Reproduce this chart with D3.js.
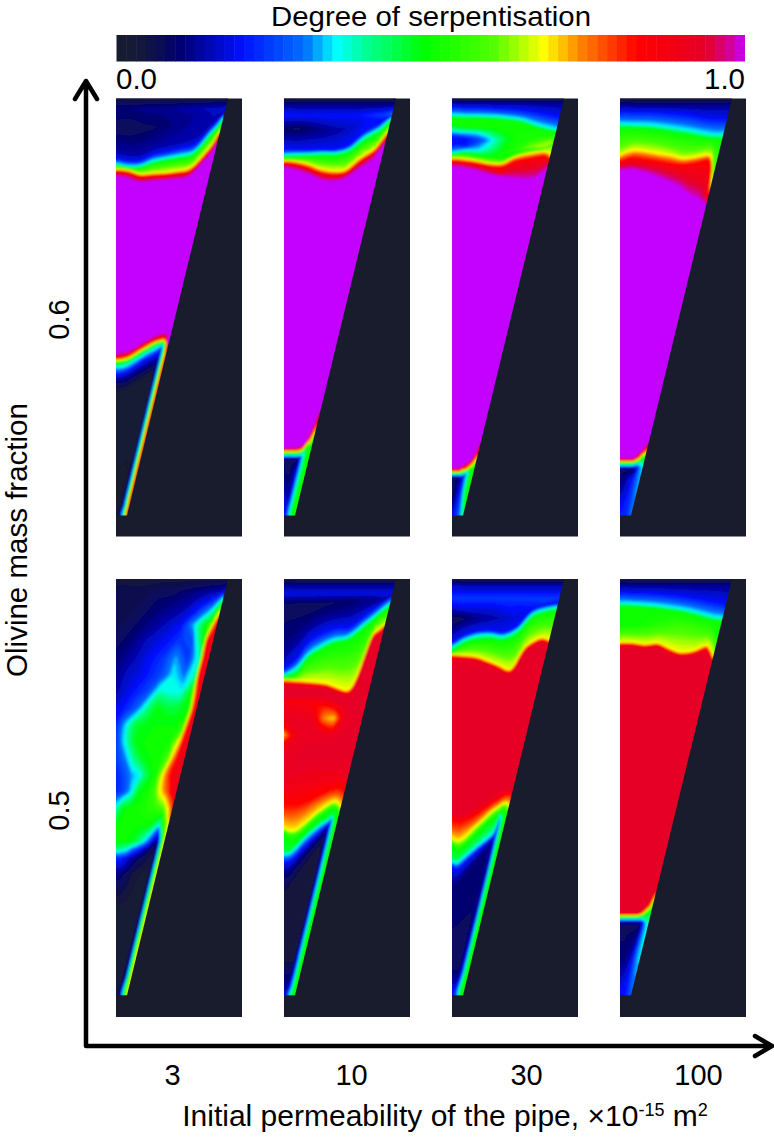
<!DOCTYPE html>
<html>
<head>
<meta charset="utf-8">
<script src="https://cdn.jsdelivr.net/npm/d3@7"></script>
<style>
  body { margin: 0; background: #fff; }
  text { font-family: "Liberation Sans", Arial, sans-serif; fill: #000; }
</style>
</head>
<body>
<div id="chart"></div>
<script>
// categories
var permeabilities = ["3", "10", "30", "100"];
var olivineFractions = ["0.6", "0.5"];

// colour bar
var barStops = [0, 4, 10, 20, 30, 35, 40, 49, 60, 68, 74, 83, 94, 98, 100];
var barColors = ["#181c2c", "#14183c", "#000070", "#0010ff", "#0070ff", "#00ffff", "#00ff90", "#00ff00", "#50ff00", "#ffff00", "#ff8000", "#ff0000", "#e60028", "#d000a0", "#c400ff"];
var barLabels = ["0.0", "1.0"];

// each field on a bent mesh: 11 columns across the wedge,
// rows follow the colour bands. depth = depth down the panel per row (one number = flat row),
// serp = degree of serpentinisation x100 per row
var depth_3_06 = [10, 40,
  [100,100,100,95,85,70,50,45,42,40,38],
  [175,180,178,160,150,140,125,80,70,58,46],
  [193,198,196,178,170,160,150,95,84,70,56],
  [205,212,210,195,187,180,170,112,100,85,70],
  [212,218,217,205,197,190,180,125,112,98,85],
  [223,226,238,235,233,228,220,170,155,135,112],
  [228,232,243,241,239,235,228,180,165,145,122],
  [235,240,252,250,248,243,238,188,175,158,135],
  [245,250,262,258,256,252,246,200,188,170,150],
  [775,772,768,758,745,733,722,715,712,722,745],
  [782,780,776,766,753,742,730,722,720,728,758],
  [788,786,782,772,760,748,737,730,728,735,768],
  [797,795,791,781,768,757,745,738,736,745,780],
  [803,801,797,787,775,763,751,743,741,752,790],
  [818,817,812,802,790,778,767,755,750,760,800],
  [838,836,830,820,808,795,785,775,762,770,810],
  [860,858,855,845,835,825,815,805,790,790,820],
  [890,888,885,875,865,855,845,835,820,820,830],
  1225, 1262];
var serp_3_06 = [4,
  [11,11,12,12,13,14,15,16,16,17,18],
  [7,7,8,9,11,12,14,16,16,17,18],
  14, 20, 35, 49, 68, 83, 93, 100, 100, 93, 83,
  [68,68,68,68,68,68,68,68,68,68,85],
  [49,49,49,49,49,49,49,49,49,52,88],
  [35,35,35,35,35,35,35,35,35,55,88],
  [20,20,20,20,20,20,20,20,20,55,88],
  [10,10,10,10,10,10,10,10,15,55,88],
  [3,3,3,3,3,3,3,3,15,55,88],
  [0,0,0,0,0,0,0,2,16,52,88],
  [0,0,0,0,0,0,0,2,22,50,85]];

var depth_10_06 = [10, 30, 60,
  [100,100,100,105,105,95,70,72,68,65,62],
  [165,165,165,165,165,150,110,85,75,70,65],
  [178,176,175,172,172,162,125,98,88,78,70],
  [187,185,183,182,182,172,140,115,102,92,82],
  [198,200,208,222,228,225,190,160,145,128,112],
  [203,207,218,232,238,233,200,170,155,138,122],
  [210,215,226,242,248,242,210,180,165,148,132],
  [218,225,238,252,258,252,225,195,180,162,148],
  [1058,1058,1058,1058,1058,1056,1054,1050,1030,985,945],
  [1061,1061,1061,1061,1061,1060,1058,1054,1036,1000,960],
  [1065,1065,1065,1065,1065,1064,1062,1058,1042,1020,985],
  [1070,1070,1070,1070,1070,1070,1068,1066,1050,1040,1015],
  [1073,1073,1073,1073,1073,1073,1072,1070,1058,1055,1050],
  [1083,1083,1083,1083,1083,1083,1083,1082,1072,1066,1060],
  [1087,1087,1087,1087,1087,1087,1087,1086,1085,1075,1070],
  1095, 1130, 1200, 1262];
var serp_10_06 = [4, 12,
  [20,20,20,20,20,20,22,25,26,28,30],
  [8,8,10,12,14,16,20,20,20,20,20],
  20, 35, 49, 68, 83, 93, 100, 100, 93, 83, 68, 49,
  [35,35,35,35,35,35,35,35,38,50,50],
  [20,20,20,20,20,20,20,20,38,50,50],
  [8,8,8,8,8,8,8,20,38,50,50],
  [10,8,8,8,10,12,15,20,38,50,50],
  [16,16,14,14,14,14,16,22,38,50,50],
  [20,20,20,20,20,20,20,22,36,50,50]];

var depth_30_06 = [10, 22,
  [38,38,38,40,42,46,52,60,62,64,66],
  [58,60,60,62,66,72,85,96,98,100,102],
  [68,69,70,72,76,82,95,105,107,109,110],
  [92,98,100,100,100,100,105,110,112,113,113],
  [108,112,115,118,115,112,112,113,114,115,115],
  [125,130,135,135,130,125,125,122,120,120,118],
  [150,150,150,150,150,148,140,135,133,130,128],
  [172,165,165,165,165,165,155,150,148,145,140],
  [178,175,180,185,190,175,165,160,155,150,145],
  [190,192,198,205,205,185,176,170,170,172,180],
  [197,200,205,212,215,198,190,182,182,185,190],
  [205,210,215,225,235,225,220,215,212,205,200],
  [215,218,226,238,245,250,255,250,240,232,225],
  [1118,1118,1118,1118,1118,1112,1108,1105,1095,1075,1040],
  [1122,1122,1122,1122,1122,1117,1112,1110,1102,1085,1055],
  [1127,1127,1127,1127,1127,1122,1120,1118,1110,1095,1075],
  [1131,1131,1131,1131,1131,1128,1126,1125,1118,1110,1095],
  [1134,1134,1134,1134,1134,1132,1131,1130,1124,1120,1115],
  [1140,1140,1140,1140,1140,1140,1140,1138,1130,1126,1122],
  [1143,1143,1143,1143,1143,1143,1143,1142,1136,1132,1128],
  1150, 1200, 1262];
var serp_30_06 = [3, 12, 20, 35, 49, 49,
  [35,35,35,42,50,52,52,52,52,52,52],
  [20,20,25,35,46,52,52,52,52,52,52],
  [20,20,30,38,48,52,55,58,58,58,58],
  [35,35,35,42,49,55,62,65,65,65,60],
  [49,49,49,49,49,50,55,58,58,58,58],
  68, 83, 93, 100, 100, 93, 83, 68, 49,
  [35,35,35,35,35,35,35,35,36,50,50],
  [20,20,20,20,20,20,20,20,36,50,50],
  [6,6,8,10,12,14,16,20,36,50,50],
  [6,8,10,12,14,16,18,20,30,48,50],
  [18,18,18,18,18,18,18,20,24,30,45]];

var depth_100_06 = [10, 30,
  [52,50,50,52,56,60,68,72,72,72,72],
  [86,87,88,92,98,104,112,118,118,118,118],
  [98,98,100,105,112,118,125,130,130,130,130],
  [165,148,150,155,165,175,172,165,175,210,240],
  [180,165,168,175,180,190,185,180,190,225,265],
  [198,188,192,198,205,208,203,195,205,235,300],
  [212,208,212,218,228,240,255,270,290,300,315],
  [228,224,232,245,260,275,300,315,320,325,330],
  [1088,1088,1088,1088,1088,1088,1088,1080,1070,1055,1040],
  [1092,1092,1092,1092,1092,1092,1092,1085,1075,1062,1050],
  [1097,1097,1097,1097,1097,1097,1097,1092,1085,1070,1060],
  [1100,1100,1100,1100,1100,1100,1100,1097,1092,1080,1075],
  [1104,1104,1104,1104,1104,1104,1104,1102,1098,1090,1090],
  [1112,1112,1112,1112,1112,1112,1112,1111,1108,1110,1112],
  [1116,1116,1116,1116,1116,1116,1116,1115,1114,1118,1120],
  1125, 1150, 1262];
var serp_100_06 = [3, 12, 20, 35, 49, 62, 68, 83, 93, 100, 100, 93, 83, 68, 49,
  [35,35,35,35,35,35,35,35,35,35,36],
  [20,20,20,20,20,20,20,20,22,30,34],
  [8,8,8,8,8,8,8,10,16,30,34],
  [10,10,11,12,14,15,16,18,22,30,32],
  [22,22,22,22,22,22,22,22,22,24,30]];

var depth_3_05 = [12, 50, 100, 150, 200, 250, 300, 350, 400, 450, 500, 550, 600, 650, 700, 750, 800, 825, 850, 900, 1000, 1200, 1262];
var serp_3_05 = [4,
  [6,6,6,8,8,10,12,14,14,16,18],
  [5,6,8,10,12,14,20,32,38,48,60],
  [6,8,10,13,16,20,34,52,60,75,88],
  [8,10,14,17,20,24,26,50,84,90,90],
  [10,13,16,20,24,32,24,40,80,90,90],
  [12,16,18,22,26,35,30,40,83,90,90],
  [14,18,22,26,38,36,36,49,70,88,90],
  [18,22,28,40,48,46,46,49,62,85,90],
  [22,34,46,48,49,49,49,55,75,88,90],
  [24,36,47,49,49,49,52,70,83,90,90],
  [24,30,40,47,49,50,58,80,88,90,90],
  [22,26,32,36,46,52,70,85,90,90,90],
  [22,26,34,47,50,55,68,78,84,88,90],
  [38,48,50,50,52,54,56,60,66,72,82],
  [50,50,50,50,50,50,46,36,52,60,68],
  [49,49,49,47,42,35,24,12,14,48,68],
  [40,38,36,28,22,16,10,6,12,48,68],
  [22,22,18,14,10,8,6,4,10,48,68],
  [10,10,8,6,4,3,2,2,10,50,68],
  [2,2,2,2,2,2,2,2,10,50,68],
  [2,2,2,2,2,2,2,4,12,50,68],
  [4,4,4,4,4,4,4,6,20,50,66]];

var depth_10_05 = [12, 30, 55,
  [90,90,90,85,80,75,70,64,62,60,58],
  [235,190,150,125,115,105,85,74,70,66,62],
  [285,255,200,175,160,158,125,88,80,72,65],
  [298,280,238,212,193,185,150,110,100,92,85],
  [305,298,248,225,205,197,165,122,112,105,95],
  [316,318,320,323,328,340,345,178,168,160,150],
  [322,324,326,329,334,346,351,184,174,166,156],
  [332,334,336,339,344,356,361,194,184,176,166],
  368, 380, 400, 430, 450, 480, 510, 560, 600,
  [690,692,690,682,672,660,648,640,640,645,650],
  [720,725,720,710,695,680,668,660,660,665,672],
  [760,768,765,750,732,712,695,680,680,685,695],
  [770,780,778,765,745,725,710,695,695,700,710],
  [785,800,795,780,765,745,725,710,708,715,730],
  [830,828,815,795,775,758,740,728,722,730,740],
  [840,838,825,805,785,768,750,738,730,740,750],
  [862,860,848,828,810,790,772,750,740,760,770],
  [900,895,880,860,840,815,795,770,760,775,790],
  [960,950,930,910,885,860,830,800,790,800,810],
  1150, 1230, 1262];
var serp_10_05 = [3, 12, 18,
  [7,7,7,8,9,10,12,16,17,18,18],
  12, 20, 35, 49, 68, 83, 93, 93,
  [84,84,85,86,88,93,93,93,93,93,93],
  [91,90,88,84,80,84,93,93,93,93,93],
  [90,92,92,90,74,70,90,93,93,93,93],
  [88,92,92,92,82,78,92,93,93,93,93],
  [72,88,92,92,92,92,93,93,93,93,93],
  [88,92,93,93,93,93,93,93,93,93,93],
  93,
  [92,92,91,91,90,90,90,90,91,92,93],
  83, 76, 68, 55, 49,
  [45,45,45,45,45,45,45,45,40,50,50],
  [35,35,35,35,35,35,35,35,30,50,50],
  [20,20,20,20,20,20,20,20,24,50,50],
  [10,10,10,10,10,10,10,10,24,50,50],
  [4,4,4,4,4,4,4,6,24,48,50],
  [4,4,4,4,4,4,4,6,24,48,50],
  [12,12,12,12,12,12,12,14,26,48,50],
  [18,18,18,18,18,18,18,20,32,48,50]];

var depth_30_05 = [12, 30, 70,
  [100,100,100,100,100,98,88,78,76,74,72],
  [135,130,130,130,130,125,95,85,82,78,76],
  [205,182,170,168,172,155,103,90,88,86,85],
  [215,193,180,178,183,165,115,100,98,97,96],
  [228,205,195,192,197,180,128,112,110,108,105],
  [240,242,246,258,272,285,215,190,190,192,196],
  [245,247,251,263,277,290,220,195,195,197,201],
  [255,257,261,273,287,300,232,207,207,209,213],
  [715,720,715,705,690,675,660,648,642,642,642],
  [738,742,738,728,715,700,682,668,660,660,660],
  [765,770,762,750,735,715,695,680,672,672,675],
  [790,798,790,772,752,732,710,693,685,685,690],
  [805,815,808,790,770,748,725,708,700,700,710],
  [815,830,820,805,785,765,742,725,712,715,730],
  [850,852,840,825,808,790,770,750,722,725,738],
  [862,866,855,840,825,810,795,775,732,735,745],
  [875,882,870,855,840,822,805,785,750,750,755],
  [940,930,920,900,880,860,835,810,790,790,790],
  1180, 1262];
var serp_30_05 = [3, 14, 24,
  [16,18,18,18,20,20,22,24,24,24,26],
  [5,9,12,14,16,18,20,20,20,20,20],
  20, 35, 49, 68, 83, 93, 93, 83, 76, 68, 55, 49,
  [44,44,44,44,44,44,44,44,34,50,50],
  [35,35,35,35,35,35,35,35,30,50,50],
  [20,20,20,20,20,20,20,20,24,50,50],
  [10,10,10,10,10,10,10,12,22,48,50],
  [8,8,8,8,8,8,8,12,22,48,50],
  [20,20,20,20,20,20,20,22,30,48,50]];

var depth_100_05 = [12, 30,
  [55,55,55,58,62,68,75,82,84,86,88],
  [84,85,88,92,98,105,115,125,126,127,128],
  [95,95,98,102,108,115,125,135,136,137,138],
  [150,150,150,150,150,160,170,170,170,175,180],
  [203,203,208,205,220,232,228,212,220,232,246],
  [208,208,214,210,226,238,234,220,228,238,252],
  [216,216,222,218,234,246,242,232,240,250,262],
  [1015,1015,1015,1015,1015,1015,1012,1005,985,965,925],
  [1019,1019,1019,1019,1019,1019,1017,1012,1000,985,950],
  [1022,1022,1022,1022,1022,1022,1021,1018,1010,1000,975],
  [1027,1027,1027,1027,1027,1027,1026,1023,1018,1012,1000],
  [1034,1034,1034,1034,1034,1034,1034,1034,1036,1040,1040],
  [1038,1038,1038,1038,1038,1038,1038,1038,1040,1044,1044],
  1050, 1150, 1262];
var serp_100_05 = [3, 12, 20, 35, 49,
  [49,50,52,54,56,58,58,56,54,52,50],
  68, 83, 93, 93, 83, 68, 49,
  [35,35,35,35,35,35,35,35,35,40,40],
  [20,20,20,20,20,20,20,20,22,34,38],
  [8,8,8,8,8,8,8,9,20,32,38],
  [10,10,10,11,12,13,14,16,24,32,34],
  [20,20,20,20,20,20,20,20,20,24,28]];

var panels = [
  {perm: "3", olivine: "0.6", depth: depth_3_06, serp: serp_3_06},
  {perm: "10", olivine: "0.6", depth: depth_10_06, serp: serp_10_06},
  {perm: "30", olivine: "0.6", depth: depth_30_06, serp: serp_30_06},
  {perm: "100", olivine: "0.6", depth: depth_100_06, serp: serp_100_06},
  {perm: "3", olivine: "0.5", depth: depth_3_05, serp: serp_3_05},
  {perm: "10", olivine: "0.5", depth: depth_10_05, serp: serp_10_05},
  {perm: "30", olivine: "0.5", depth: depth_30_05, serp: serp_30_05},
  {perm: "100", olivine: "0.5", depth: depth_100_05, serp: serp_100_05}
];

//set up svg
var svgWidth = 774;
var svgHeight = 1138;
var svg = d3.select("#chart").append("svg")
  .attr("width", svgWidth)
  .attr("height", svgHeight)
  .style("display", "block");

var defs = svg.append("defs");
defs.append("filter").attr("id", "soft")
  .attr("x", "-5%").attr("y", "-5%").attr("width", "110%").attr("height", "110%")
  .append("feGaussianBlur").attr("stdDeviation", 0.8);

var color = d3.scaleLinear().domain(barStops).range(barColors);
var panelBg = barColors[0];

//panel scales
var panelWidth = 126;
var panelHeight = 438;
var nCols = 11;
var xPanel = d3.scalePoint().domain(permeabilities).range([116, 620]);
var yPanel = d3.scalePoint().domain(olivineFractions).range([98.5, 579]);
var readDomain = {"0.6": [10, 1325], "0.5": [12, 1327]};
var ringLine = d3.line().curve(d3.curveCatmullRomClosed.alpha(0.5));

function drawPanel(p, idx) {
  var left = xPanel(p.perm);
  var top = yPanel(p.olivine);
  var yDepth = d3.scaleLinear().domain(readDomain[p.olivine]).range([top, top + panelHeight]);
  var tip = yDepth(1262);
  // wedge width goes from 112px at the top to 11px at the tip
  var wedge = d3.scaleLinear().domain([top, tip]).range([112, 11]);

  var depths = p.depth.map(d => Array.isArray(d) ? d : d3.range(nCols).map(() => d));
  var serps = p.serp.map(d => Array.isArray(d) ? d : d3.range(nCols).map(() => d));
  var nRows = depths.length;

  function colX(i, y) {
    var w = wedge(y);
    if (i <= 7) return left + i / 7 * (w - 9);
    return left + w - 9 + (i - 7) * 3;
  }

  // contour coords -> page coords through the mesh, pushed a bit past the
  // grid border so the clip cuts the edge and not the rounded ring corners
  function meshPoint(pt) {
    var c = Math.max(0, Math.min(nCols - 1, pt[0] - 0.5));
    var r = Math.max(0, Math.min(nRows - 1, pt[1] - 0.5));
    var c0 = Math.min(Math.floor(c), nCols - 2), r0 = Math.min(Math.floor(r), nRows - 2);
    var fc = c - c0, fr = r - r0;
    var d = (depths[r0][c0] * (1 - fc) + depths[r0][c0 + 1] * fc) * (1 - fr)
          + (depths[r0 + 1][c0] * (1 - fc) + depths[r0 + 1][c0 + 1] * fc) * fr;
    var y = yDepth(d);
    var x = colX(c0, y) * (1 - fc) + colX(c0 + 1, y) * fc;
    return [x + (pt[0] - 0.5 - c) * 10, y + (pt[1] - 0.5 - r) * 10];
  }

  function contourPath(con) {
    return con.coordinates.map(function(poly) {
      return poly.map(function(ring) {
        return ringLine(ring.slice(1).map(meshPoint));
      }).join("");
    }).join("");
  }

  var g = svg.append("g").attr("class", "panel");
  g.append("rect")
    .attr("x", left).attr("y", top)
    .attr("width", panelWidth).attr("height", panelHeight)
    .attr("fill", panelBg);

  var clipId = "wedge" + idx;
  defs.append("clipPath").attr("id", clipId)
    .append("polygon")
    .attr("points", [[left, top], [left + 112, top], [left + 11, tip], [left, tip]].join(" "));

  var levels = d3.range(1, 100, 2);
  var contours = d3.contours().size([nCols, nRows]).thresholds(levels)(serps.flat());
  g.append("g").attr("clip-path", "url(#" + clipId + ")")
    .append("g").attr("filter", "url(#soft)")
    .selectAll("path")
    .data(contours)
    .enter()
    .append("path")
    .attr("d", contourPath)
    .attr("fill", d => color(d.value + 1));
}
panels.forEach(drawPanel);

//colour bar, 64 steps
var barCells = d3.range(64);
var xBar = d3.scaleBand().domain(barCells).range([116.5, 744.5]);
svg.append("g").selectAll("rect")
  .data(barCells)
  .enter()
  .append("rect")
  .attr("x", d => xBar(d))
  .attr("y", 35)
  .attr("width", xBar.bandwidth() + 0.5)
  .attr("height", 26.5)
  .attr("fill", d => color((d + 0.5) / 64 * 100));

svg.append("text").attr("x", 431).attr("y", 25.8)
  .attr("text-anchor", "middle").style("font-size", "28.5px")
  .attr("textLength", 320).attr("lengthAdjust", "spacingAndGlyphs")
  .text("Degree of serpentisation");
svg.append("text").attr("x", 116).attr("y", 88.5)
  .style("font-size", "29.5px").text(barLabels[0]);
svg.append("text").attr("x", 745).attr("y", 88.5)
  .attr("text-anchor", "end").style("font-size", "29.5px").text(barLabels[1]);

//axes
var axisY = 1046;
var axisX = 86;
var xTicks = d3.scaleOrdinal().domain(permeabilities).range([172, 351, 526, 698]);
var yTicks = d3.scaleOrdinal().domain(olivineFractions).range([319, 810]);

var bottomG = svg.append("g")
  .attr("transform", `translate(0, ${axisY})`)
  .call(d3.axisBottom(xTicks).tickSize(0).tickPadding(18.5));
bottomG.select(".domain").remove();
bottomG.selectAll("text").style("font-size", "29px");

var leftG = svg.append("g")
  .attr("transform", `translate(${axisX}, 0)`)
  .call(d3.axisLeft(yTicks).tickSize(0));
leftG.select(".domain").remove();
leftG.selectAll("text")
  .style("font-size", "29px")
  .attr("text-anchor", "middle")
  .attr("dy", null)
  .attr("x", null)
  .attr("transform", "translate(-17,0) rotate(-90)");

var arrows = d3.path();
arrows.moveTo(axisX, axisY);
arrows.lineTo(axisX, 82);
arrows.moveTo(axisX - 11, 99);
arrows.lineTo(axisX, 81);
arrows.lineTo(axisX + 11, 99);
arrows.moveTo(axisX, axisY);
arrows.lineTo(771, axisY);
arrows.moveTo(755, axisY - 10);
arrows.lineTo(772, axisY);
arrows.lineTo(755, axisY + 10);
svg.append("path").attr("d", arrows.toString())
  .attr("fill", "none").attr("stroke", "#000")
  .attr("stroke-width", 4.5).attr("stroke-linecap", "round").attr("stroke-linejoin", "round");

svg.append("text")
  .attr("transform", "translate(27, 540) rotate(-90)")
  .attr("text-anchor", "middle").style("font-size", "29.5px")
  .text("Olivine mass fraction");

var xTitle = svg.append("text").attr("x", 445).attr("y", 1126)
  .attr("text-anchor", "middle").style("font-size", "30px");
xTitle.append("tspan").text("Initial permeability of the pipe, ");
xTitle.append("tspan").text("\u00d7");
xTitle.append("tspan").text("10");
xTitle.append("tspan").attr("dy", -10).style("font-size", "18px").text("-15");
xTitle.append("tspan").attr("dy", 10).text(" m");
xTitle.append("tspan").attr("dy", -10).style("font-size", "18px").text("2");
</script>
</body>
</html>
